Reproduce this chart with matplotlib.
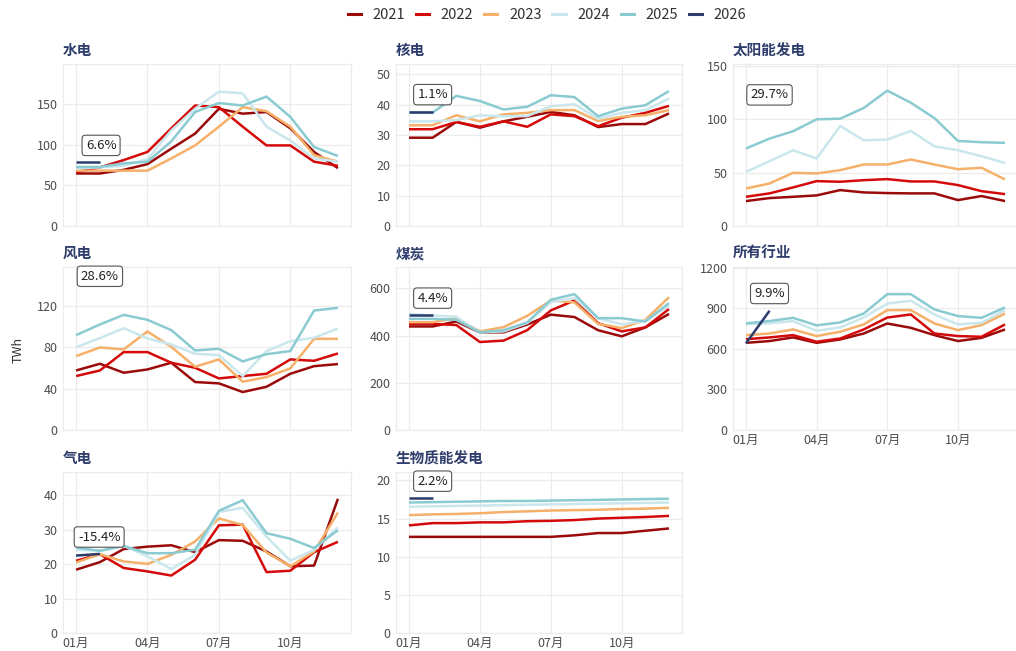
import matplotlib
matplotlib.use('Agg')
import matplotlib.pyplot as plt
from matplotlib.lines import Line2D

plt.rcParams['font.family'] = ['Noto Sans CJK SC', 'DejaVu Sans']

months = list(range(1, 13))
years = ['2021', '2022', '2023', '2024', '2025', '2026']
tick_months = [1, 4, 7, 10]
tick_labels = ['01月', '04月', '07月', '10月']

panel_titles = ['水电', '核电', '太阳能发电', '风电', '煤炭', '所有行业', '气电', '生物质能发电']

# rows: 2021, 2022, 2023, 2024, 2025 (Jan..Dec), TWh
hydro = [
    [64.5, 64.5, 69, 76, 95, 113.5, 144, 138, 140, 120, 91, 71],
    [66, 72, 81, 91, 120, 148, 146, 122, 99, 99, 79, 74],
    [68, 68, 68, 68, 83, 99, 122, 146, 141, 122, 87, 79],
    [71, 72, 74, 82, 117.5, 144, 165, 163, 122, 105, 83, 79],
    [72.5, 72.5, 77, 79, 104, 140, 151, 148, 159, 134, 97, 86],
]
hydro_2026 = [78.5, 78.5]

nuclear = [
    [29.1, 29.1, 34.3, 32.4, 34.5, 36, 37.6, 36.5, 32.6, 33.6, 33.6, 37.1],
    [31.9, 31.9, 34.3, 32.7, 34.5, 32.7, 36.8, 36.2, 32.9, 35.7, 37.3, 39.6],
    [33.2, 33.2, 36.5, 34.5, 36.8, 37.3, 38.2, 38.2, 34.6, 36, 36.5, 38.2],
    [34.5, 34.5, 34.9, 36.5, 36.2, 36.2, 39.5, 40.1, 35.4, 37.3, 38.2, 42],
    [37.4, 37.4, 42.9, 41.2, 38.4, 39.3, 43.1, 42.5, 36.2, 38.7, 39.8, 44.5],
]
nuclear_2026 = [37.6, 37.6]

solar = [
    [23.4, 26.2, 27.4, 28.7, 33.7, 31.5, 30.9, 30.6, 30.6, 24.3, 28.1, 23.4],
    [27.4, 30.6, 36.2, 42.1, 41.5, 43, 44, 41.8, 41.8, 38.4, 32.7, 29.9],
    [35.2, 39.9, 49.9, 49.3, 52.4, 57.7, 57.7, 62.4, 57.7, 53.3, 54.6, 43.7],
    [50.8, 60.8, 71.1, 63.3, 93.9, 80.4, 81.1, 89.2, 74.8, 71.1, 65.5, 59.2],
    [72.7, 82, 88.9, 100.1, 100.7, 110.7, 127, 115.7, 101.3, 79.8, 78.6, 78],
]
solar_2026 = []

wind = [
    [57.7, 64.2, 55.5, 58.7, 65.2, 46.5, 45.2, 36.8, 41.9, 54.5, 61.9, 63.9],
    [52.3, 57.7, 75.5, 75.5, 65.2, 60.3, 50, 52.3, 54.5, 68.4, 67.1, 74.2],
    [71.6, 80, 78.1, 95.5, 80.6, 61.3, 68.4, 46.8, 51.3, 59.7, 88.4, 88.4],
    [80.3, 89, 98.7, 88.7, 82.9, 73.9, 72.6, 52.3, 76.5, 86.1, 89.4, 98.4],
    [91.9, 102.3, 111.6, 106.8, 96.8, 77.1, 78.7, 66.5, 73.5, 76.5, 115.8, 118.4],
]
wind_2026 = []

coal = [
    [439, 439, 460, 414, 414, 447, 489, 479, 423, 397, 435, 492],
    [450, 450, 445, 373, 379, 423, 507, 549, 453, 418, 435, 513],
    [457, 457, 474, 418, 436, 484, 549, 541, 450, 432, 467, 563],
    [492, 485, 480, 414, 418, 453, 542, 559, 474, 448, 463, 527],
    [471, 471, 467, 414, 423, 456, 552, 576, 474, 474, 460, 538],
]
coal_2026 = [489, 489]

all_sectors = [
    [645, 658, 685, 645, 670, 714, 788, 756, 702, 658, 682, 744],
    [672, 685, 702, 653, 677, 744, 832, 855, 714, 695, 690, 781],
    [702, 714, 744, 695, 727, 781, 887, 887, 788, 739, 776, 862],
    [784, 790, 806, 734, 759, 833, 936, 956, 855, 781, 793, 887],
    [789, 806, 830, 774, 796, 862, 1005, 1005, 892, 843, 830, 907],
]
all_sectors_2026 = [641, 882]

gas = [
    [18.4, 20.6, 24.4, 25.1, 25.5, 23.5, 27, 26.8, 23.7, 19.4, 19.6, 39],
    [21, 22.9, 18.9, 17.9, 16.7, 21.3, 31.3, 31.5, 17.7, 18.1, 23.5, 26.5],
    [20.5, 22.9, 20.8, 20.1, 22.7, 26.6, 33.3, 31.4, 23.4, 19.4, 23.7, 35],
    [24.2, 23.9, 25.3, 22.3, 18.6, 22.7, 35.2, 36.4, 28, 21, 24.2, 30.7],
    [24.8, 23.9, 25.3, 23.2, 23.2, 24.2, 35.5, 38.6, 29, 27.4, 24.7, 29.9],
]
gas_2026 = [22.5, 23]

biomass = [
    [12.6, 12.6, 12.6, 12.6, 12.6, 12.6, 12.6, 12.8, 13.1, 13.1, 13.4, 13.7],
    [14.1, 14.4, 14.4, 14.5, 14.5, 14.65, 14.7, 14.8, 15.0, 15.1, 15.2, 15.35],
    [15.45, 15.55, 15.6, 15.7, 15.85, 15.95, 16.05, 16.1, 16.15, 16.25, 16.3, 16.4],
    [16.55, 16.6, 16.65, 16.7, 16.75, 16.8, 16.85, 16.9, 16.95, 17.0, 17.05, 17.1],
    [17.1, 17.15, 17.2, 17.25, 17.3, 17.3, 17.35, 17.4, 17.45, 17.5, 17.55, 17.6],
]
biomass_2026 = [17.65, 17.65]

growth_labels = ['6.6%', '1.1%', '29.7%', '28.6%', '4.4%', '9.9%', '-15.4%', '2.2%']
label_month = [2.05, 2.0, 2.0, 2.0, 2.0, 2.0, 1.97, 2.0]
label_value = [99, 43.3, 123, 149, 559, 1010, 27.9, 19.9]

panel_data = [hydro, nuclear, solar, wind, coal, all_sectors, gas, biomass]
panel_2026 = [hydro_2026, nuclear_2026, solar_2026, wind_2026, coal_2026,
              all_sectors_2026, gas_2026, biomass_2026]
y_ticks = [
    [0, 50, 100, 150],
    [0, 10, 20, 30, 40, 50],
    [0, 50, 100, 150],
    [0, 40, 80, 120],
    [0, 200, 400, 600],
    [0, 300, 600, 900, 1200],
    [0, 10, 20, 30, 40],
    [0, 5, 10, 15, 20],
]
y_top = [199, 53.4, 152, 158, 691, 1206, 46.8, 21.1]

colors = ['#9b0a0a', '#d40a0a', '#f5b06a', '#c9e7ec', '#8acbd2', '#2c3d6d']
title_color = '#2e3d6b'
grid_color = '#ececec'

W, H = 1016, 651
fig = plt.figure(figsize=(W / 100, H / 100), dpi=100)

col_px = [(63, 351), (396, 682), (733, 1018)]
row_px = [(64, 226), (267, 430), (472, 633)]
positions = [(0, 0), (0, 1), (0, 2), (1, 0), (1, 1), (1, 2), (2, 0), (2, 1)]
xlabel_panels = {5, 6, 7}

for i, (r, c) in enumerate(positions):
    x0, x1 = col_px[c]
    yt, yb = row_px[r]
    ax = fig.add_axes([x0 / W, 1 - yb / H, (x1 - x0) / W, (yb - yt) / H])
    for k, series in enumerate(panel_data[i]):
        ax.plot(months, series, color=colors[k], lw=1.8, solid_capstyle='butt', zorder=2 + k)
    s26 = panel_2026[i]
    if s26:
        ax.plot(months[:len(s26)], s26, color=colors[5], lw=1.8, solid_capstyle='butt', zorder=8)
    ax.set_xlim(0.45, 12.55)
    ax.set_ylim(0, y_top[i])
    ax.set_yticks(y_ticks[i])
    ax.set_yticklabels([str(t) for t in y_ticks[i]])
    ax.set_xticks(tick_months)
    if i in xlabel_panels:
        ax.set_xticklabels(tick_labels)
    else:
        ax.set_xticklabels([])
    ax.tick_params(axis='both', length=0, labelsize=9, colors='#4d4d4d', pad=4)
    ax.tick_params(axis='x', pad=3)
    ax.grid(True, color=grid_color, lw=0.9, zorder=0)
    ax.set_axisbelow(True)
    for sp in ax.spines.values():
        sp.set_color(grid_color)
        sp.set_linewidth(0.9)
    ax.text(0, 1.035, panel_titles[i], transform=ax.transAxes, ha='left', va='bottom',
            fontsize=10.5, fontweight='bold', color=title_color)
    ax.text(label_month[i], label_value[i], growth_labels[i], ha='center', va='center',
            fontsize=9.5, color='#222222', zorder=10,
            bbox=dict(boxstyle='round,pad=0.28,rounding_size=0.25', fc='white', ec='#555555', lw=0.8))

fig.text(18 / W, 1 - 350 / H, 'TWh', rotation=90, ha='center', va='center',
         fontsize=9, color='#333333')

handles = [Line2D([0], [0], color=colors[k], lw=2.2) for k in range(6)]
fig.legend(handles, years, loc='center', bbox_to_anchor=(547 / W, 1 - 15 / H), ncol=6,
           frameon=False, fontsize=10.5, handlelength=0.9, handletextpad=0.8,
           columnspacing=0.75, labelcolor='#333333')

fig.savefig('out.png', dpi=100)
